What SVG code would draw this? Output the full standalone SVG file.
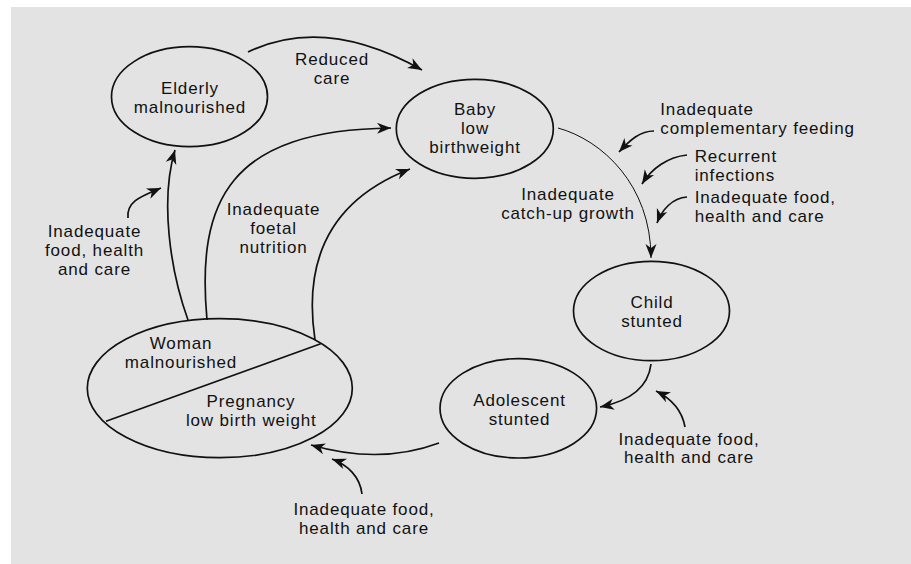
<svg xmlns="http://www.w3.org/2000/svg" width="911" height="564" viewBox="0 0 911 564">
<style>
  .bg{fill:#e3e3e3}
  .node ellipse{fill:none;stroke:#111;stroke-width:1.7}
  .node line{stroke:#111;stroke-width:1.7}
  text{font-family:"Liberation Sans",Arial,sans-serif;font-size:17px;letter-spacing:0.85px;fill:#111;text-anchor:middle}
  text.l{text-anchor:start}
  .c path{fill:none;stroke:#111;stroke-width:1.7;marker-end:url(#ah)}
  .c path.thin{stroke-width:1}
</style>
<defs>
  <marker id="ah" markerUnits="userSpaceOnUse" viewBox="-15 -7 16 14" refX="0" refY="0" markerWidth="16" markerHeight="14" orient="auto">
    <path d="M0,0 L-14,-5.5 L-10,0 L-14,5.5 Z" fill="#111"/>
  </marker>
</defs>
<rect class="bg" x="11" y="7" width="900" height="557"/>

<g id="elderly" class="node">
  <ellipse cx="189.5" cy="96.7" rx="78" ry="50"/>
  <text x="190" y="94">Elderly</text>
  <text x="190" y="112.7">malnourished</text>
</g>
<g id="baby" class="node">
  <ellipse cx="474.8" cy="128.8" rx="78.5" ry="49.5"/>
  <text x="475" y="115">Baby</text>
  <text x="475" y="133.7">low</text>
  <text x="475" y="152.7">birthweight</text>
</g>
<g id="child" class="node">
  <ellipse cx="651.5" cy="311" rx="78" ry="49.7"/>
  <text x="652" y="308">Child</text>
  <text x="652" y="327">stunted</text>
</g>
<g id="adolescent" class="node">
  <ellipse cx="518.3" cy="408.3" rx="78.3" ry="49.7"/>
  <text x="519.5" y="406">Adolescent</text>
  <text x="519.5" y="424.7">stunted</text>
</g>
<g id="woman" class="node">
  <ellipse cx="219.8" cy="388.2" rx="132.5" ry="69.5"/>
  <line x1="106" y1="421.3" x2="320.7" y2="343.7"/>
  <text x="181" y="348.7">Woman</text>
  <text x="181" y="368">malnourished</text>
  <text x="251" y="407">Pregnancy</text>
  <text x="251.3" y="426">low birth weight</text>
</g>

<g id="connectors" class="c">
  <path d="M248,52 Q325,15 422,70"/>
  <path d="M188,320 C170,270 160,200 175,150"/>
  <path d="M207,320 C196,200 230,130 391,128"/>
  <path d="M315,340 C303,260 330,200 410,169"/>
  <path class="thin" d="M558,128 C602,140 651,185 651,258"/>
  <path d="M651,364 C648,390 625,402 600,407"/>
  <path d="M439,443 Q380,465 311,445"/>
  <path d="M128,218 C126,200 145,195 161,188"/>
  <path d="M654,131 C640,131 630,140 619,152"/>
  <path d="M687,155 C668,157 652,168 642,184"/>
  <path d="M687,197 C672,198 662,210 657,223"/>
  <path d="M685,427 C682,410 670,398 656,391"/>
  <path d="M362,494 C360,477 348,465 332,459"/>
</g>

<g id="labels">
  <text x="332" y="65">Reduced</text>
  <text x="332" y="84">care</text>
  <text x="94.5" y="236.5">Inadequate</text>
  <text x="94.5" y="255.8">food, health</text>
  <text x="94.5" y="275">and care</text>
  <text x="273.5" y="215">Inadequate</text>
  <text x="273.5" y="234">foetal</text>
  <text x="273.5" y="253">nutrition</text>
  <text x="568" y="200">Inadequate</text>
  <text x="568" y="219">catch-up growth</text>
  <text class="l" x="660.3" y="115">Inadequate</text>
  <text class="l" x="660.3" y="133.7">complementary feeding</text>
  <text class="l" x="694.7" y="161.7">Recurrent</text>
  <text class="l" x="694.7" y="180.7">infections</text>
  <text class="l" x="694.7" y="203.3">Inadequate food,</text>
  <text class="l" x="694.7" y="221.7">health and care</text>
  <text x="689" y="445">Inadequate food,</text>
  <text x="689" y="463.3">health and care</text>
  <text x="364" y="515.3">Inadequate food,</text>
  <text x="364" y="534.3">health and care</text>
</g>
</svg>
